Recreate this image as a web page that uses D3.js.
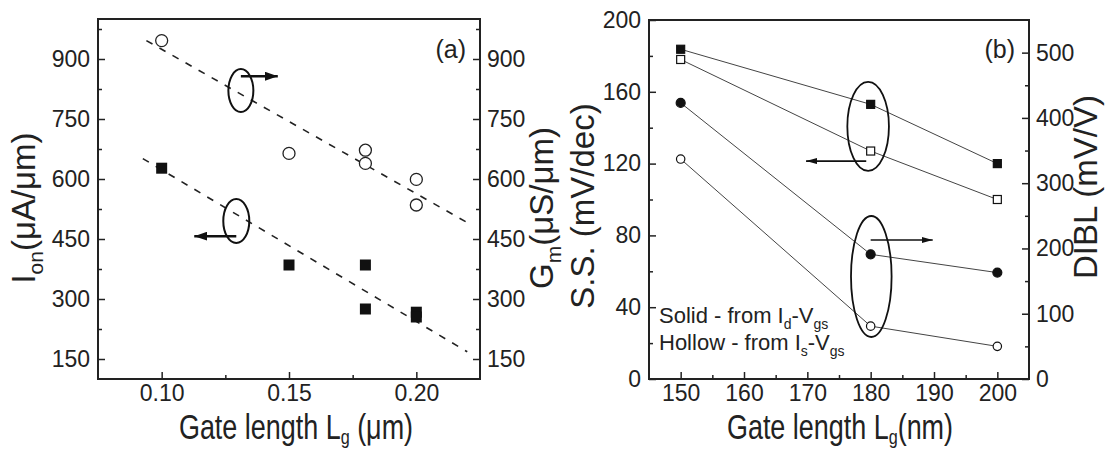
<!DOCTYPE html>
<html>
<head>
<meta charset="utf-8">
<script src="https://cdn.jsdelivr.net/npm/d3@7"></script>
<style>
  body { margin: 0; background: #fff; }
  svg { display: block; font-family: "Liberation Sans", Arial, sans-serif; }
  .tick text { fill: #222; }
</style>
</head>
<body>
<script>
'use strict';

// ---- panel (a) data ----
let ionLg = [0.10, 0.15, 0.18, 0.18, 0.20, 0.20];
let ionVal = [627, 385, 385, 275, 267, 255];
let gmLg = [0.10, 0.15, 0.18, 0.18, 0.20, 0.20];
let gmVal = [946, 664, 672, 639, 599, 535];
let gmFitLg = [0.094, 0.220];
let gmFitVal = [946, 491];
let ionFitLg = [0.0926, 0.220];
let ionFitVal = [651, 168];
let aTicksX = [0.10, 0.15, 0.20];
let aMinorX = [0.125, 0.175];
let aTicksY = [150, 300, 450, 600, 750, 900];
let aMinorY = [225, 375, 525, 675, 825, 975];

// ---- panel (b) data ----
let lgB = [150, 180, 200];
let ssSolid = [183.7, 153, 120];
let ssHollow = [178, 127, 100];
let diblSolid = [423, 191, 163];
let diblHollow = [337, 81, 50];
let bTicksX = [150, 160, 170, 180, 190, 200];
let bMinorX = [155, 165, 175, 185, 195];
let bTicksY = [0, 40, 80, 120, 160, 200];
let bMinorY = [20, 60, 100, 140, 180];
let bTicksY2 = [0, 100, 200, 300, 400, 500];
let bMinorY2 = [50, 150, 250, 350, 450];

let svg = d3.select('body').append('svg').attr('width', 1105).attr('height', 450);

let defs = svg.append('defs');
function arrowMarker(id, w, h) {
	defs.append('marker')
		.attr('id', id)
		.attr('viewBox', '0 0 ' + w + ' ' + h)
		.attr('refX', w).attr('refY', h / 2)
		.attr('markerWidth', w).attr('markerHeight', h)
		.attr('markerUnits', 'userSpaceOnUse')
		.attr('orient', 'auto')
		.append('path')
		.attr('d', 'M0,0L' + w + ',' + h / 2 + 'L0,' + h + 'Z')
		.attr('fill', '#111');
}
arrowMarker('headA', 13, 9);
arrowMarker('headB', 11, 6);

function drawAxis(g, axis, major, minor, tx, fs) {
	let gm = g.append('g').attr('transform', tx).call(axis.tickValues(major));
	gm.select('.domain').remove();
	gm.selectAll('line').attr('stroke', '#222').attr('stroke-width', 1.5);
	gm.selectAll('text').attr('font-size', fs).attr('font-family', '"Liberation Sans", Arial, sans-serif');
	let gn = g.append('g').attr('transform', tx)
		.call(axis.tickValues(minor).tickSize(-4).tickFormat(''));
	gn.select('.domain').remove();
	gn.selectAll('line').attr('stroke', '#222').attr('stroke-width', 1.5);
}

// x titles in the figure are tall and narrow
function xTitle(g, cx, base, unit) {
	let t = g.append('text').attr('transform', 'translate(' + cx + ',' + base + ') scale(0.77,1)')
		.attr('text-anchor', 'middle').attr('font-size', 35).attr('fill', '#222');
	t.append('tspan').text('Gate length L');
	t.append('tspan').attr('font-size', 21).attr('dy', 5).text('g');
	t.append('tspan').attr('dy', -5).text(unit);
}

// ================= panel (a) =================
let ax = d3.scaleLinear().domain([0.075, 0.225]).range([98, 480]);
let ay = d3.scaleLinear().domain([100, 1000]).range([379, 19]);
let pa = svg.append('g');

drawAxis(pa, d3.axisBottom(ax).tickSize(-7).tickPadding(6).tickFormat(d3.format('.2f')), aTicksX, aMinorX, 'translate(0,379)', 23);
drawAxis(pa, d3.axisLeft(ay).tickSize(-7).tickPadding(8), aTicksY, aMinorY, 'translate(98,0)', 23);
drawAxis(pa, d3.axisRight(ay).tickSize(-7).tickPadding(7), aTicksY, aMinorY, 'translate(480,0)', 23);

pa.append('rect').attr('x', 98).attr('y', 19).attr('width', 382).attr('height', 360)
	.attr('fill', 'none').attr('stroke', '#222').attr('stroke-width', 2);

let fitLine = d3.line().x(function(d){ return ax(d[0]); }).y(function(d){ return ay(d[1]); });
pa.append('path').attr('d', fitLine(d3.zip(gmFitLg, gmFitVal)))
	.attr('stroke', '#222').attr('stroke-width', 1.6).attr('stroke-dasharray', '7,8').attr('fill', 'none');
pa.append('path').attr('d', fitLine(d3.zip(ionFitLg, ionFitVal)))
	.attr('stroke', '#222').attr('stroke-width', 1.6).attr('stroke-dasharray', '7,8').attr('fill', 'none');

pa.selectAll('rect.ion').data(d3.zip(ionLg, ionVal)).enter().append('rect')
	.attr('class', 'ion')
	.attr('x', function(d){ return ax(d[0]) - 5.5; })
	.attr('y', function(d){ return ay(d[1]) - 5.5; })
	.attr('width', 11).attr('height', 11).attr('fill', '#111');
pa.selectAll('circle.gm').data(d3.zip(gmLg, gmVal)).enter().append('circle')
	.attr('class', 'gm')
	.attr('cx', function(d){ return ax(d[0]); })
	.attr('cy', function(d){ return ay(d[1]); })
	.attr('r', 6).attr('fill', '#fff').attr('stroke', '#222').attr('stroke-width', 1.3);

// ellipses and arrows of (a)
pa.append('ellipse').attr('cx', ax(0.1311)).attr('cy', ay(821)).attr('rx', 12.5).attr('ry', 21.5)
	.attr('fill', 'none').attr('stroke', '#111').attr('stroke-width', 2);
pa.append('line').attr('x1', ax(0.1311)).attr('x2', ax(0.1456)).attr('y1', ay(857)).attr('y2', ay(857))
	.attr('stroke', '#111').attr('stroke-width', 2.5).attr('marker-end', 'url(#headA)');
pa.append('ellipse').attr('cx', ax(0.1293)).attr('cy', ay(495)).attr('rx', 13).attr('ry', 22)
	.attr('fill', 'none').attr('stroke', '#111').attr('stroke-width', 2);
pa.append('line').attr('x1', ax(0.1293)).attr('x2', ax(0.1128)).attr('y1', ay(457)).attr('y2', ay(457))
	.attr('stroke', '#111').attr('stroke-width', 2.5).attr('marker-end', 'url(#headA)');

pa.append('text').attr('x', 466).attr('y', 58).attr('text-anchor', 'end')
	.attr('font-size', 25).attr('fill', '#222').text('(a)');

// axis titles (a)
xTitle(pa, 296, 439, ' (\u03bcm)');

let tAy = pa.append('text').attr('transform', 'translate(35,208) rotate(-90)').attr('text-anchor', 'middle')
	.attr('font-size', 33).attr('fill', '#222');
tAy.append('tspan').text('I');
tAy.append('tspan').attr('font-size', 21).attr('dy', 8).text('on');
tAy.append('tspan').attr('dy', -8).text('(\u03bcA/\u03bcm)');

let tAy2 = pa.append('text').attr('transform', 'translate(553,208) rotate(-90)').attr('text-anchor', 'middle')
	.attr('font-size', 33).attr('fill', '#222');
tAy2.append('tspan').text('G');
tAy2.append('tspan').attr('font-size', 21).attr('dy', 8).text('m');
tAy2.append('tspan').attr('dy', -8).text('(\u03bcS/\u03bcm)');

// ================= panel (b) =================
let bx = d3.scaleLinear().domain([145, 205]).range([649, 1029]);
let by = d3.scaleLinear().domain([0, 200]).range([379, 20]);
let by2 = d3.scaleLinear().domain([0, 550]).range([379, 20]);
let pb = svg.append('g');

drawAxis(pb, d3.axisBottom(bx).tickSize(-7).tickPadding(6), bTicksX, bMinorX, 'translate(0,379)', 23);
drawAxis(pb, d3.axisLeft(by).tickSize(-7).tickPadding(8), bTicksY, bMinorY, 'translate(649,0)', 23);
drawAxis(pb, d3.axisRight(by2).tickSize(-7).tickPadding(7), bTicksY2, bMinorY2, 'translate(1029,0)', 23);

pb.append('rect').attr('x', 649).attr('y', 20).attr('width', 380).attr('height', 359)
	.attr('fill', 'none').attr('stroke', '#222').attr('stroke-width', 2);

function series(vals, yScale, shape, filled) {
	let pts = d3.zip(lgB, vals);
	let line = d3.line().x(function(d){ return bx(d[0]); }).y(function(d){ return yScale(d[1]); });
	pb.append('path').attr('d', line(pts)).attr('fill', 'none').attr('stroke', '#444').attr('stroke-width', 1);
	let sel = pb.selectAll(null).data(pts).enter();
	if (shape === 'square') {
		sel.append('rect')
			.attr('x', function(d){ return bx(d[0]) - 4; })
			.attr('y', function(d){ return yScale(d[1]) - 4; })
			.attr('width', 8).attr('height', 8)
			.attr('fill', filled ? '#111' : '#fff').attr('stroke', '#111').attr('stroke-width', 1.2);
	} else {
		sel.append('circle')
			.attr('cx', function(d){ return bx(d[0]); })
			.attr('cy', function(d){ return yScale(d[1]); })
			.attr('r', filled ? 4.5 : 4.2)
			.attr('fill', filled ? '#111' : '#fff').attr('stroke', '#111').attr('stroke-width', 1.2);
	}
}
series(ssSolid, by, 'square', true);
series(ssHollow, by, 'square', false);
series(diblSolid, by2, 'circle', true);
series(diblHollow, by2, 'circle', false);

pb.append('ellipse').attr('cx', bx(179.6)).attr('cy', by(140.7)).attr('rx', 20.8).attr('ry', 44.5)
	.attr('fill', 'none').attr('stroke', '#111').attr('stroke-width', 1.8);
pb.append('line').attr('x1', bx(179.3)).attr('x2', bx(169.8)).attr('y1', by(121.4)).attr('y2', by(121.4))
	.attr('stroke', '#111').attr('stroke-width', 1.6).attr('marker-end', 'url(#headB)');
pb.append('ellipse').attr('cx', bx(180.1)).attr('cy', by2(157)).attr('rx', 20.3).attr('ry', 60.5)
	.attr('fill', 'none').attr('stroke', '#111').attr('stroke-width', 1.8);
pb.append('line').attr('x1', bx(180)).attr('x2', bx(189.8)).attr('y1', by2(213)).attr('y2', by2(213))
	.attr('stroke', '#111').attr('stroke-width', 1.6).attr('marker-end', 'url(#headB)');

pb.append('text').attr('x', 1015).attr('y', 58).attr('text-anchor', 'end')
	.attr('font-size', 25).attr('fill', '#222').text('(b)');

// legend note
let n1 = pb.append('text').attr('x', 659).attr('y', 323).attr('font-size', 22).attr('fill', '#222');
n1.append('tspan').text('Solid - from I');
n1.append('tspan').attr('font-size', 14).attr('dy', 6).text('d');
n1.append('tspan').attr('dy', -6).text('-V');
n1.append('tspan').attr('font-size', 14).attr('dy', 6).text('gs');
let n2 = pb.append('text').attr('x', 659).attr('y', 350).attr('font-size', 22).attr('fill', '#222');
n2.append('tspan').text('Hollow - from I');
n2.append('tspan').attr('font-size', 14).attr('dy', 6).text('s');
n2.append('tspan').attr('dy', -6).text('-V');
n2.append('tspan').attr('font-size', 14).attr('dy', 6).text('gs');

// axis titles (b)
xTitle(pb, 840, 439, '(nm)');

pb.append('text').attr('transform', 'translate(594,206) rotate(-90)').attr('text-anchor', 'middle')
	.attr('font-size', 33).attr('fill', '#222').text('S.S. (mV/dec)');
pb.append('text').attr('transform', 'translate(1097,187) rotate(-90)').attr('text-anchor', 'middle')
	.attr('font-size', 33).attr('fill', '#222').text('DIBL (mV/V)');
</script>
</body>
</html>
